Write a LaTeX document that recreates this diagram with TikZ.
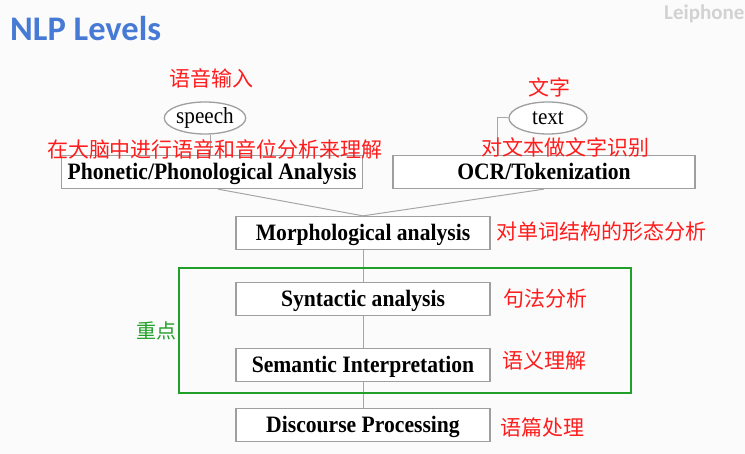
\documentclass[tikz,border=0pt]{standalone}
\usepackage{fontspec}
\setmainfont{Liberation Serif}
\newfontfamily\cjk{Noto Sans CJK SC}
\newfontfamily\slidefont{Carlito}
\usetikzlibrary{positioning,shapes.geometric}
\definecolor{titleblue}{RGB}{70,122,212}
\definecolor{notered}{RGB}{255,28,28}
\definecolor{focusgreen}{RGB}{32,160,40}
\newcommand{\narrowtext}[1]{\scalebox{0.92}[1]{#1}}
\tikzset{
  level/.style={draw=gray!75, line width=1.3pt, fill=white, inner sep=0pt,
    minimum width=254pt, minimum height=33pt, text height=20pt, text depth=4pt,
    font=\fontsize{23.5}{23.5}\selectfont\bfseries},
  input/.style={ellipse, draw=gray!75, line width=1.3pt, fill=white, inner sep=0pt,
    minimum height=32pt, font=\fontsize{23}{23}\selectfont},
  link/.style={gray!70, line width=1pt},
  note/.style={text=notered, inner sep=0pt, font=\cjk\fontsize{21}{21}\selectfont},
}
\begin{document}
\begin{tikzpicture}[x=1pt,y=-1pt]
    \fill[gray!3] (0,0) rectangle (745,454);
    \useasboundingbox (0,0) rectangle (745,454);
    % slide title
    \node[anchor=west, inner sep=0pt, text=titleblue, font=\slidefont\bfseries\fontsize{34.5}{34.5}\selectfont] (title) at (10,29) {NLP Levels};
    \node[anchor=west, inner sep=0pt, text=gray!35, font=\slidefont\bfseries\fontsize{21}{21}\selectfont] (mark) at (664,14) {Leiphone};
    % levels
    \node[input, minimum width=74pt] (speech) at (205,118) {\narrowtext{speech}};
    \node[input, minimum width=78pt] (text) at (548,118) {\narrowtext{text}};
    \node[level, minimum width=301pt] (phon) at (212,172) {\narrowtext{Phonetic/Phonological Analysis}};
    \node[level, minimum width=302pt] (ocr) at (544,172) {\narrowtext{OCR/Tokenization}};
    \node[level] (morph) at (363,233) {\narrowtext{Morphological analysis}};
    \node[level] (synt) at (363,299) {\narrowtext{Syntactic analysis}};
    \node[level] (sem) at (363,365) {\narrowtext{Semantic Interpretation}};
    \node[level] (disc) at (363,425) {\narrowtext{Discourse Processing}};
    % connectors
    \draw[link] ([xshift=5pt]speech.south) -- ([xshift=5pt]speech.south |- phon.north);
    \draw[link] (text.west) -| ([xshift=-47pt]ocr.north);
    \draw[link] ([xshift=6pt]phon.south) -- (morph.north);
    \draw[link] (ocr.south) -- (morph.north);
    \draw[link] (morph) -- (synt);
    \draw[link] (synt) -- (sem);
    \draw[link] (sem) -- (disc);
    % focus
    \draw[focusgreen, line width=2.5pt] (179,268) rectangle (631,393);
    \node[inner sep=0pt, text=focusgreen, font=\cjk\fontsize{20}{20}\selectfont] (focusnote) at (156,331) {重点};
    % notes
    \node[note] (speechnote) at (211,78) {语音输入};
    \node[note] (textnote) at (549,87) {文字};
    \node[note] (phonnote) at (215,149) {在大脑中进行语音和音位分析来理解};
    \node[note] (ocrnote) at (565,147) {对文本做文字识别};
    \node[note, anchor=west] (morphnote) at (496,232) {对单词结构的形态分析};
    \node[note, anchor=west] (syntnote) at (503,299) {句法分析};
    \node[note, anchor=west] (semnote) at (502,361) {语义理解};
    \node[note, anchor=west] (discnote) at (500,427) {语篇处理};
\end{tikzpicture}
\end{document}
